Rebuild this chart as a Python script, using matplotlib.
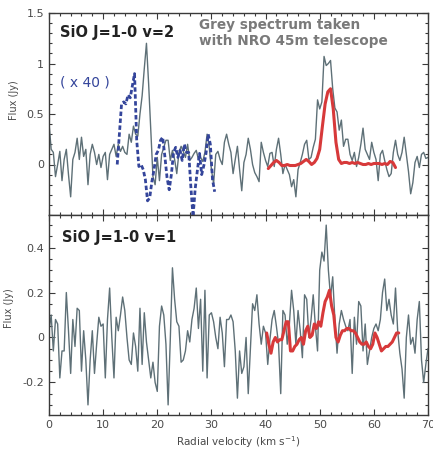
import numpy as np
import matplotlib
matplotlib.use("Agg")
import matplotlib.pyplot as plt
from matplotlib.ticker import MultipleLocator, FuncFormatter

# ---------------- data ----------------
# top panel: SiO J=1-0 v=2, grey NRO spectrum, channel 0.4 km/s starting at 0
v2_grey_start, v2_grey_step = 0.0, 0.4
v2_grey_flux = [
    0.41, 0.15, 0.12, -0.12, 0.00, 0.13, -0.16, 0.05, 0.15, -0.10,
    -0.32, 0.05, 0.12, 0.26, 0.05, 0.27, 0.08, 0.15, -0.20, 0.10,
    0.20, 0.12, 0.00, 0.10, -0.03, 0.08, 0.12, -0.15, 0.10, 0.15,
    0.20, 0.08, 0.20, 0.13, 0.18, 0.12, 0.10, 0.30, 0.22, 0.38,
    0.30, 0.28, 0.50, 0.68, 0.95, 1.20, 0.80, 0.34, -0.12, -0.20,
    0.07, -0.16, 0.10, 0.17, 0.24, 0.24, 0.04, 0.14, 0.05, -0.09,
    0.12, 0.18, 0.13, 0.07, 0.20, 0.04, 0.07, 0.11, 0.14, 0.05,
    0.07, 0.03, 0.12, 0.30, 0.17, -0.05, -0.19, 0.10, 0.13, 0.05,
    0.00, 0.22, 0.30, 0.20, 0.12, -0.09, 0.05, 0.18, -0.05, -0.26,
    0.02, 0.10, 0.26, 0.15, 0.00, -0.08, -0.12, -0.17, 0.22, 0.12,
    0.04, -0.02, 0.11, 0.12, -0.02, 0.15, 0.26, 0.10, -0.09, 0.00,
    -0.05, -0.10, -0.22, -0.15, -0.32, -0.05, 0.02, 0.10, 0.20, 0.24,
    0.05, 0.07, 0.17, 0.25, 0.64, 0.55, 0.62, 1.07, 0.98, 1.00,
    1.03, 0.75, 0.56, 0.52, 0.34, 0.44, 0.18, 0.25, 0.25, 0.10,
    0.04, 0.12, -0.02, 0.07, 0.20, 0.36, 0.15, 0.10, 0.05, 0.22,
    0.12, 0.05, -0.16, 0.10, 0.14, 0.04, -0.05, -0.12, -0.09, 0.12,
    0.24, 0.10, 0.04, 0.12, 0.27, 0.10, -0.07, -0.29, -0.18, 0.02,
    0.08, -0.03, 0.10, 0.12, 0.06, 0.07,
]

# top panel: blue dashed spectrum (x 40)
v2_blue_start, v2_blue_step = 12.6, 0.4
v2_blue_flux = [
    0.00, 0.30, 0.60, 0.62, 0.60, 0.69, 0.66, 0.78, 0.90, 0.24,
    -0.02, 0.00, -0.05, -0.15, -0.36, -0.33, -0.17, -0.05, 0.10, 0.14,
    0.24, 0.27, 0.08, -0.13, -0.25, -0.10, 0.12, 0.17, 0.07, 0.14,
    0.04, 0.20, 0.12, 0.12, -0.22, -0.52, -0.24, -0.06, 0.11, -0.10,
    -0.01, 0.11, 0.30, 0.20, -0.15, -0.27,
]

# top panel: red model
v2_red_start, v2_red_step = 40.5, 0.5
v2_red_flux = [
    -0.04, -0.01, 0.02, 0.04, 0.02, -0.01, -0.01, 0.00, -0.01, -0.01,
    -0.01, 0.00, 0.01, 0.03, 0.05, 0.03, 0.00, 0.02, 0.06, 0.15,
    0.38, 0.60, 0.72, 0.75, 0.55, 0.22, 0.05, 0.01, 0.02, 0.02,
    0.01, 0.02, 0.01, 0.02, 0.01, 0.00, 0.00, 0.01, 0.00, 0.01,
    0.01, 0.01, 0.00, 0.01, 0.00, 0.03, 0.02, -0.03,
]

# bottom panel: SiO J=1-0 v=1, grey spectrum
v1_grey_start, v1_grey_step = 0.0, 0.4
v1_grey_flux = [
    0.03, 0.10, -0.06, 0.08, 0.06, -0.18, -0.06, -0.06, 0.20, 0.03,
    -0.16, 0.08, -0.04, 0.13, 0.12, -0.15, 0.03, -0.10, -0.30, -0.10,
    0.03, -0.16, -0.03, 0.09, 0.05, 0.06, -0.18, 0.08, 0.22, 0.00,
    -0.18, 0.09, 0.03, 0.10, 0.18, 0.12, 0.00, -0.10, -0.12, 0.02,
    -0.04, -0.15, 0.13, -0.12, 0.11, -0.02, -0.10, -0.18, -0.11, -0.20,
    -0.24, 0.05, 0.14, 0.10, -0.03, -0.30, -0.01, 0.31, 0.17, 0.07,
    0.05, -0.11, -0.10, -0.06, 0.03, -0.02, 0.08, 0.13, 0.22, 0.04,
    0.17, -0.15, 0.21, -0.18, 0.10, 0.11, 0.07, 0.00, -0.05, 0.09,
    0.02, -0.13, 0.08, 0.08, 0.10, 0.07, -0.06, -0.27, -0.06, -0.16,
    -0.13, 0.00, -0.25, -0.05, 0.15, 0.12, 0.19, 0.06, -0.03, 0.05,
    0.02, -0.12, -0.01, 0.08, 0.12, 0.05, -0.03, -0.25, 0.12, 0.10,
    -0.03, 0.06, 0.21, 0.12, -0.03, 0.12, 0.03, -0.09, 0.19, 0.17,
    0.00, 0.08, 0.19, 0.05, -0.06, 0.30, 0.38, 0.34, 0.50, 0.30,
    0.18, 0.27, 0.08, -0.07, 0.06, 0.12, 0.08, 0.05, 0.03, 0.08,
    -0.16, 0.09, -0.03, 0.16, 0.14, -0.06, 0.06, -0.12, -0.06, 0.00,
    0.04, 0.06, 0.03, 0.08, 0.20, 0.26, 0.12, 0.17, 0.10, 0.06,
    0.22, 0.03, -0.07, -0.14, -0.27, 0.00, 0.10, -0.03, 0.00, -0.07,
    0.08, 0.16, -0.10, -0.20, -0.12, -0.05,
]

# bottom panel: red spectrum
v1_red_start, v1_red_step = 40.2, 0.4
v1_red_flux = [
    0.02, -0.03, -0.07, -0.02, 0.00, -0.02, -0.01, -0.01, 0.03, 0.07,
    0.07, -0.06, -0.06, -0.04, -0.03, -0.01, 0.00, -0.03, 0.03, 0.05,
    0.00, 0.01, 0.06, 0.04, 0.07, 0.05, 0.11, 0.16, 0.18, 0.21,
    0.14, 0.10, 0.00, -0.02, 0.01, 0.03, 0.03, 0.04, 0.04, 0.03,
    0.03, 0.02, 0.00, -0.02, -0.03, -0.03, -0.02, -0.04, -0.05, -0.03,
    0.02, 0.00, -0.03, -0.06, -0.05, -0.04, -0.04, -0.03, -0.02, 0.00,
    0.02, 0.02,
]

top_label = "SiO J=1-0 v=2"
bottom_label = "SiO J=1-0 v=1"
scale_label = "( x 40 )"
note_label = "Grey spectrum taken\nwith NRO 45m telescope"
top_yticks = [0, 0.5, 1, 1.5]
bottom_yticks = [-0.2, 0, 0.2, 0.4]
x_ticks = [0, 10, 20, 30, 40, 50, 60, 70]


def channels(start, step, values):
    return start + step * np.arange(len(values))


# ---------------- figure ----------------
W, H = 433, 450
fig = plt.figure(figsize=(W / 100, H / 100), dpi=100)
fig.patch.set_facecolor("white")

left, right = 49, 428
ax1 = fig.add_axes([left / W, (H - 215) / H, (right - left) / W, 202 / H])
ax2 = fig.add_axes([left / W, (H - 415) / H, (right - left) / W, 200 / H], sharex=ax1)

grey = "#5e7077"
blue = "#34459b"
red = "#d7393a"
spine_c = "#3a3a3a"
tick_c = "#4a4a4a"

ax1.plot(channels(v2_grey_start, v2_grey_step, v2_grey_flux), v2_grey_flux,
         color=grey, lw=1.0, zorder=2)
ax1.plot(channels(v2_blue_start, v2_blue_step, v2_blue_flux), v2_blue_flux,
         color=blue, lw=2.0, linestyle=(0, (1.6, 0.9)), zorder=3)
ax1.plot(channels(v2_red_start, v2_red_step, v2_red_flux), v2_red_flux,
         color=red, lw=2.2, zorder=4, solid_capstyle="round")

ax2.plot(channels(v1_grey_start, v1_grey_step, v1_grey_flux), v1_grey_flux,
         color=grey, lw=1.0, zorder=2)
ax2.plot(channels(v1_red_start, v1_red_step, v1_red_flux), v1_red_flux,
         color=red, lw=2.2, zorder=4, solid_capstyle="round")

ax1.set_xlim(0, 70)
ax1.set_ylim(-0.5, 1.5)
ax2.set_ylim(-0.345, 0.545)

fmt = FuncFormatter(lambda v, p: "%g" % round(v, 2))
for ax, yt, ymin in ((ax1, top_yticks, 0.1), (ax2, bottom_yticks, 0.05)):
    ax.set_yticks(yt)
    ax.yaxis.set_major_formatter(fmt)
    ax.yaxis.set_minor_locator(MultipleLocator(ymin))
    ax.set_xticks(x_ticks)
    ax.xaxis.set_minor_locator(MultipleLocator(2))
    ax.tick_params(which="both", direction="in", top=True, right=True,
                   colors=spine_c, labelcolor=tick_c, labelsize=8, width=0.8)
    ax.tick_params(which="major", length=4.5)
    ax.tick_params(which="minor", length=2.5)
    for s in ax.spines.values():
        s.set_color(spine_c)
        s.set_linewidth(1.0)
    ax.set_ylabel("Flux (Jy)", fontsize=7, color=tick_c)

ax1.tick_params(labelbottom=False)
ax1.yaxis.set_label_coords(-0.078, 0.57)
ax2.yaxis.set_label_coords(-0.093, 0.535)
ax2.xaxis.set_major_formatter(fmt)
ax2.set_xlabel("Radial velocity (km s$^{-1}$)", fontsize=7.5, color=tick_c, labelpad=3)

ax1.text(0.03, 0.905, top_label, transform=ax1.transAxes, fontsize=10.5,
         fontweight="bold", color="#222222", va="center", ha="left")
ax1.text(0.03, 0.655, scale_label, transform=ax1.transAxes, fontsize=10,
         color=blue, va="center", ha="left")
ax1.text(0.395, 0.975, note_label, transform=ax1.transAxes, fontsize=9.8,
         fontweight="bold", color="#7a7a7a", va="top", ha="left",
         linespacing=1.15)
ax2.text(0.035, 0.89, bottom_label, transform=ax2.transAxes, fontsize=10.5,
         fontweight="bold", color="#222222", va="center", ha="left")

fig.savefig("out.png", dpi=100, facecolor="white")
